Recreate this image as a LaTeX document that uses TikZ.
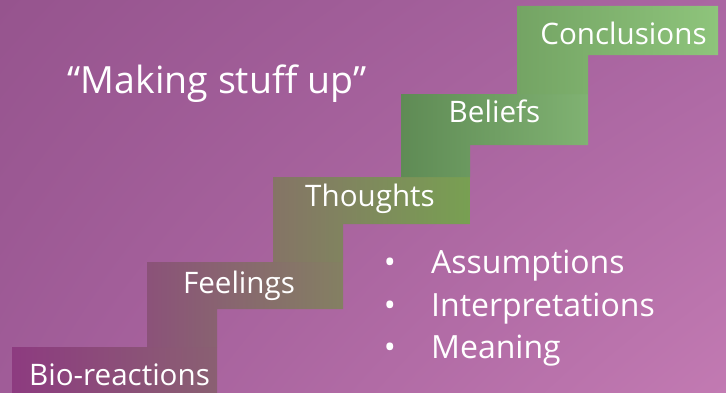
\documentclass[tikz,border=0pt]{standalone}
\usepackage{fontspec}
\usetikzlibrary{shadings}
\setmainfont{Open Sans}
\begin{document}
\begin{tikzpicture}[x=1pt,y=1pt,
  steplabel/.style={text=white,inner sep=0pt,anchor=base,font=\fontsize{29.6}{34}\selectfont},
  titletext/.style={text=white,inner sep=0pt,anchor=base,font=\fontsize{37.5}{42}\selectfont},
  bullettext/.style={text=white,inner sep=0pt,anchor=base west,font=\fontsize{32}{36}\selectfont},
  bulletdot/.style={text=white,inner sep=0pt,anchor=base,font=\fontsize{32}{36}\selectfont}]
  \definecolor{bgUL}{HTML}{96548E}
  \definecolor{bgUR}{HTML}{AA66A2}
  \definecolor{bgLL}{HTML}{A05C98}
  \definecolor{bgLR}{HTML}{C27AB2}
  % background
  \useasboundingbox (0,0) rectangle (726,392);
  \shade[upper left=bgUL,upper right=bgUR,lower left=bgLL,lower right=bgLR] (0,0) rectangle (726,392);
  % staircase: each step is a bar with a leg reaching down to the step below
  \shade[left color={rgb,255:red,141;green,59;blue,128},right color={rgb,255:red,138;green,96;blue,114}]
    (12,0) -- (12,45) -- (217,45) -- (217,0) -- cycle;
  \shade[left color={rgb,255:red,139;green,82;blue,121},right color={rgb,255:red,132;green,128;blue,98}]
    (147,45) -- (147,130) -- (343,130) -- (343,83) -- (217,83) -- (217,45) -- cycle;
  \shade[left color={rgb,255:red,133;green,116;blue,102},right color={rgb,255:red,120;green,160;blue,82}]
    (273,130) -- (273,215) -- (470,215) -- (470,168) -- (343,168) -- (343,130) -- cycle;
  \shade[left color={rgb,255:red,95;green,139;blue,85},right color={rgb,255:red,128;green,178;blue,114}]
    (401,215) -- (401,298) -- (588,298) -- (588,247) -- (470,247) -- (470,215) -- cycle;
  \shade[left color={rgb,255:red,116;green,164;blue,100},right color={rgb,255:red,142;green,196;blue,123}]
    (517,298) -- (517,386) -- (718,386) -- (718,337) -- (588,337) -- (588,298) -- cycle;
  % step labels
  \node[steplabel] (bio) at (119.5,7) {Bio-reactions};
  \node[steplabel] (feel) at (239,99) {Feelings};
  \node[steplabel] (thought) at (370,186) {Thoughts};
  \node[steplabel] (belief) at (494.5,270) {Beliefs};
  \node[steplabel] (concl) at (623.5,348) {Conclusions};
  % title
  \node[titletext] (title) at (217,299) {“Making stuff up”};
  % bullet list
  \node[bulletdot] (b1) at (390,119) {•};
  \node[bulletdot] (b2) at (390,76) {•};
  \node[bulletdot] (b3) at (390,34) {•};
  \node[bullettext] (assume) at (431,119) {Assumptions};
  \node[bullettext] (interp) at (431,76) {Interpretations};
  \node[bullettext] (meaning) at (431,34) {Meaning};
\end{tikzpicture}
\end{document}
